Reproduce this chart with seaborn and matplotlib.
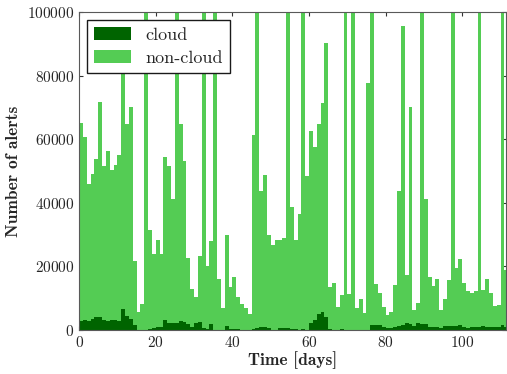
import numpy as np
import pandas as pd
import matplotlib
matplotlib.use("Agg")
import matplotlib.pyplot as plt
import seaborn as sns

# daily alert counts (thousands); 120 = clipped above the axis
total_k = [65.0, 60.8, 45.9, 49.0, 53.6, 71.8, 51.5, 56.4, 50.3, 51.8,
           54.9, 88.0, 64.7, 70.2, 21.6, 5.7, 8.0, 120, 31.5, 23.8,
           28.2, 23.8, 54.3, 51.5, 41.1, 120, 64.8, 53.0, 22.5, 12.7,
           10.4, 23.2, 120, 20.1, 27.9, 120, 16.0, 6.8, 29.8, 13.6,
           16.5, 10.2, 8.2, 6.8, 4.9, 61.4, 120, 43.6, 48.6, 29.8,
           26.6, 28.2, 28.2, 28.8, 120, 38.6, 28.2, 36.4, 120, 48.4,
           62.4, 57.5, 64.9, 71.5, 90.3, 13.6, 14.8, 7.3, 10.9, 120,
           11.3, 120, 7.0, 9.7, 5.4, 77.7, 120, 14.4, 11.6, 7.3,
           4.7, 5.7, 14.1, 43.6, 95.6, 17.2, 70.2, 6.3, 8.5, 120,
           41.1, 16.6, 13.8, 16.0, 6.3, 9.7, 15.7, 120, 19.4, 22.3,
           14.7, 12.2, 11.6, 12.2, 120, 12.5, 16.0, 11.6, 7.5, 7.8,
           120, 18.8]

cloud_k = [2.8, 3.1, 2.9, 3.3, 3.9, 4.2, 3.1, 2.9, 3.0, 3.1,
           2.9, 6.6, 4.5, 3.4, 1.4, 0.1, 0.1, 0.1, 0.2, 0.5,
           0.8, 1.0, 3.1, 2.1, 2.3, 2.3, 2.8, 2.5, 1.9, 1.0,
           2.3, 2.5, 0.7, 0.2, 1.9, 0.1, 0.1, 0.1, 1.3, 0.2,
           0.3, 0.3, 0.1, 0.1, 0.1, 0.4, 0.6, 0.9, 0.9, 0.5,
           0.1, 0.1, 0.5, 0.5, 0.5, 0.3, 0.3, 0.1, 0.2, 0.1,
           2.3, 3.1, 4.9, 5.6, 3.9, 0.2, 0.1, 0.1, 0.3, 0.1,
           0.1, 0.1, 0.1, 0.1, 0.1, 0.1, 1.4, 1.4, 1.4, 1.0,
           0.5, 0.5, 1.0, 1.3, 1.5, 2.2, 1.7, 1.3, 2.2, 1.9,
           1.9, 1.0, 1.0, 1.0, 0.6, 1.3, 1.3, 1.3, 1.3, 1.6,
           0.9, 0.6, 0.8, 1.0, 1.0, 1.3, 1.0, 0.8, 0.8, 0.8,
           1.5, 1.0]

cloud = np.array(cloud_k) * 1000
noncloud = np.array(total_k) * 1000 - cloud
days = np.arange(len(cloud))

df = pd.DataFrame({'day': days + 0.5, 'cloud': cloud,
                   'total': cloud + noncloud})

sns.set_style('ticks')
plt.rcParams['font.family'] = ['cmr10', 'DejaVu Serif']
plt.rcParams['axes.unicode_minus'] = False
plt.rcParams['axes.formatter.use_mathtext'] = True

c_cloud = '#006400'
c_non = '#54cc54'

fig, ax = plt.subplots(figsize=(5.07, 3.74), dpi=100)
fig.subplots_adjust(left=0.156, right=0.998, bottom=0.118, top=0.968)

# non-cloud stacked on top of cloud: draw the totals, then cloud over them
sns.barplot(data=df, x='day', y='total', native_scale=True, width=1,
            color=c_non, saturation=1, linewidth=0, errorbar=None,
            label='non-cloud', ax=ax)
sns.barplot(data=df, x='day', y='cloud', native_scale=True, width=1,
            color=c_cloud, saturation=1, linewidth=0, errorbar=None,
            label='cloud', ax=ax)

ax.set_xlim(0, 111.4)
ax.set_ylim(0, 100000)
ax.set_xticks([0, 20, 40, 60, 80, 100])
ax.set_yticks([0, 20000, 40000, 60000, 80000, 100000])
ax.tick_params(direction='in', top=True, right=True, labelsize=11,
               length=3, color='0.2')
for s in ax.spines.values():
    s.set_color('0.35')

ax.set_xlabel('Time [days]', fontsize=12.5, family='cmb10', labelpad=1)
ax.set_ylabel('Number of alerts', fontsize=12.5, family='cmb10', labelpad=4)

h, l = ax.get_legend_handles_labels()
leg = ax.legend(h[::-1], l[::-1], loc='upper left', fontsize=13,
                fancybox=False, edgecolor='0.1', framealpha=1,
                handlelength=2.0, handleheight=0.7, handletextpad=0.8,
                labelspacing=0.4, borderpad=0.4,
                borderaxespad=0.0, bbox_to_anchor=(0.019, 0.975))
leg.get_frame().set_linewidth(1.0)

plt.savefig('out.png', dpi=100)
